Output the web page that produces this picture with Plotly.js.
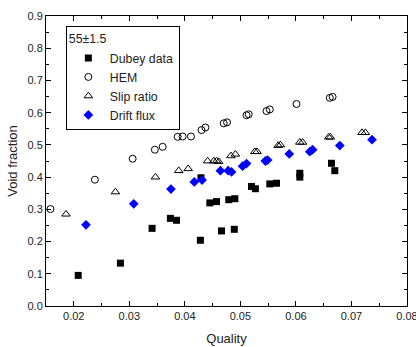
<!DOCTYPE html>
<html>
<head>
<meta charset="utf-8">
<script src="https://cdn.plot.ly/plotly-3.0.1.min.js"></script>
<style>html,body{margin:0;padding:0;background:#fff;}#chart{width:416px;height:347px;}</style>
</head>
<body>
<div id="chart"></div>
<script>
// Dubey data
var dubeyX = [0.0208,0.0284,0.0341,0.0374,0.0385,0.0428,0.0429,0.0445,0.0457,0.0466,0.0479,0.0489,0.0490,0.0520,0.0527,0.0553,0.0565,0.0607,0.0607,0.0664,0.0670];
var dubeyY = [0.095,0.133,0.241,0.272,0.266,0.204,0.398,0.320,0.324,0.233,0.330,0.238,0.333,0.371,0.364,0.379,0.381,0.412,0.400,0.443,0.420];
// HEM
var hemX = [0.0158,0.0238,0.0306,0.0346,0.0360,0.0387,0.0396,0.0411,0.0430,0.0437,0.0470,0.0476,0.0511,0.0515,0.0547,0.0553,0.0601,0.0661,0.0666];
var hemY = [0.301,0.392,0.457,0.485,0.494,0.525,0.526,0.526,0.546,0.554,0.567,0.570,0.592,0.595,0.605,0.610,0.627,0.646,0.649];
// Slip ratio
var slipX = [0.0186,0.0275,0.0347,0.0389,0.0406,0.0441,0.0452,0.0457,0.0461,0.0483,0.0491,0.0526,0.0530,0.0568,0.0572,0.0607,0.0612,0.0659,0.0662,0.0719,0.0725];
var slipY = [0.285,0.354,0.400,0.420,0.426,0.450,0.450,0.450,0.448,0.466,0.471,0.479,0.479,0.498,0.500,0.508,0.508,0.524,0.524,0.538,0.538];
// Drift flux
var driftX = [0.0222,0.0308,0.0375,0.0417,0.0431,0.0464,0.0478,0.0484,0.0504,0.0511,0.0545,0.0549,0.0588,0.0625,0.0630,0.0679,0.0737];
var driftY = [0.252,0.317,0.363,0.385,0.391,0.420,0.420,0.416,0.434,0.442,0.450,0.453,0.472,0.479,0.485,0.498,0.516];

var xTicks = [0.02,0.03,0.04,0.05,0.06,0.07,0.08];
var xTickText = ['0.02','0.03','0.04','0.05','0.06','0.07','0.08'];
var yTicks = [0.0,0.1,0.2,0.3,0.4,0.5,0.6,0.7,0.8,0.9];

var FONT = 'Liberation Sans, Arial, sans-serif';

var traces = [
  {x: dubeyX, y: dubeyY, name: 'Dubey data', mode: 'markers', type: 'scatter',
   marker: {symbol: 'square', size: 7, color: '#000'}},
  {x: hemX, y: hemY, name: 'HEM', mode: 'markers', type: 'scatter',
   marker: {symbol: 'circle-open', size: 7, color: '#000', line: {width: 1}}},
  {x: slipX, y: slipY, name: 'Slip ratio', mode: 'markers', type: 'scatter',
   marker: {symbol: 'triangle-up-open', size: 7.5, color: '#000', line: {width: 1}}},
  {x: driftX, y: driftY, name: 'Drift flux', mode: 'markers', type: 'scatter',
   marker: {symbol: 'diamond', size: 7.5, color: '#0000ff'}}
];

var axisCommon = {
  showline: true, linecolor: '#000', linewidth: 1, mirror: 'allticks',
  ticks: 'inside', ticklen: 5, tickwidth: 1, tickcolor: '#000',
  showgrid: false, zeroline: false,
  tickfont: {family: FONT, size: 11, color: '#222'}
};

var layout = {
  width: 416, height: 347,
  margin: {l: 46, r: 9, t: 16, b: 41},
  paper_bgcolor: '#fff', plot_bgcolor: '#fff',
  font: {family: FONT, color: '#222'},
  showlegend: true,
  xaxis: Object.assign({}, axisCommon, {
    range: [0.015, 0.08], tickvals: xTicks, ticktext: xTickText,
    ticklabeloverflow: 'allow',
    minor: {dtick: 0.005, tick0: 0.015, ticks: 'inside', ticklen: 3, tickcolor: '#000'},
    title: {text: 'Quality', font: {family: FONT, size: 13, color: '#222'}, standoff: 12}
  }),
  yaxis: Object.assign({}, axisCommon, {
    range: [0, 0.9], tickvals: yTicks, tickformat: '.1f',
    minor: {dtick: 0.05, tick0: 0, ticks: 'inside', ticklen: 3, tickcolor: '#000'},
    title: {text: 'Void fraction', font: {family: FONT, size: 13, color: '#222'}, standoff: 6}
  }),
  legend: {
    x: 0.055, y: 0.964, xanchor: 'left', yanchor: 'top',
    bgcolor: '#fff', bordercolor: '#000', borderwidth: 1,
    font: {family: FONT, size: 12.3, color: '#222'},
    title: {text: '55±1.5', font: {family: FONT, size: 12.3, color: '#222'}, side: 'top'},
    itemwidth: 33, tracegroupgap: 0
  }
};

Plotly.newPlot('chart', traces, layout, {displayModeBar: false, staticPlot: true});
</script>
</body>
</html>
